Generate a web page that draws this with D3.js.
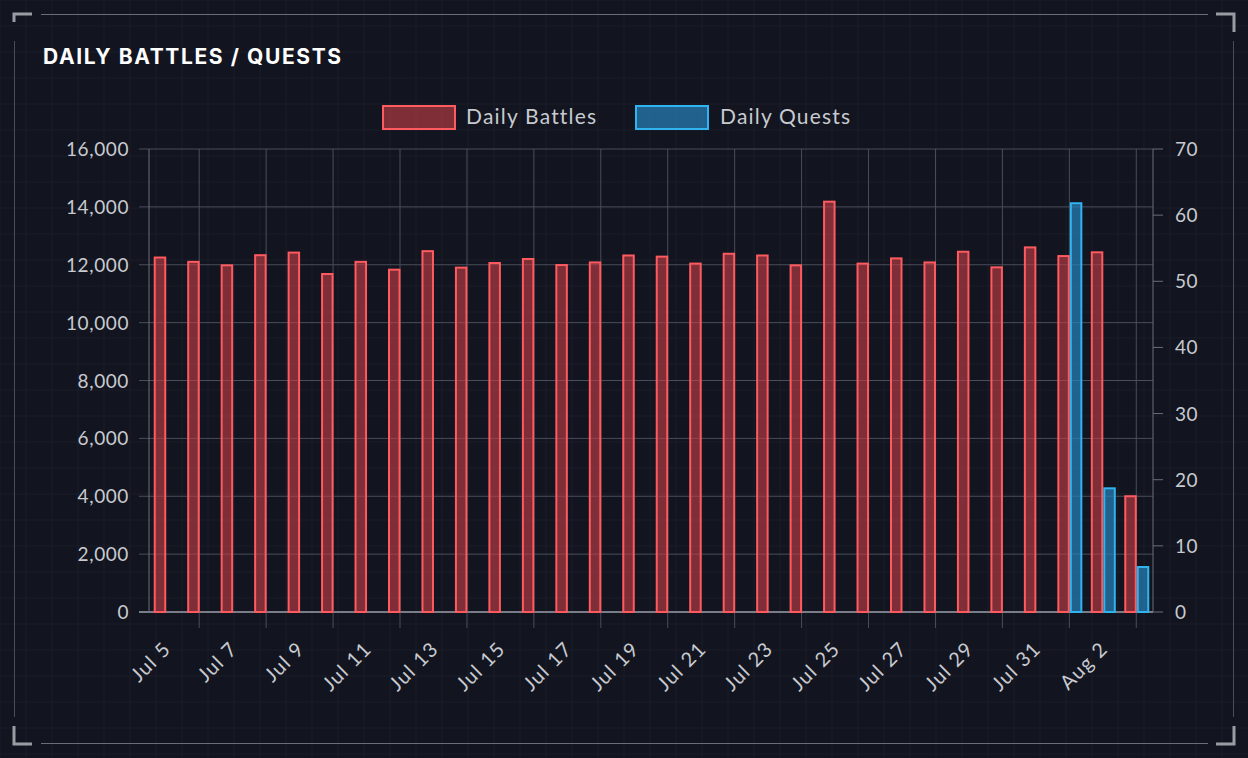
<!DOCTYPE html>
<html><head><meta charset="utf-8">
<script src="https://cdn.jsdelivr.net/npm/d3@7"></script>
<style>
body{margin:0;background:#12151f;}
svg{display:block}
</style></head>
<body><svg width="1248" height="758"></svg>
<script>
var days = ["Jul 5","Jul 6","Jul 7","Jul 8","Jul 9","Jul 10","Jul 11","Jul 12","Jul 13","Jul 14",
  "Jul 15","Jul 16","Jul 17","Jul 18","Jul 19","Jul 20","Jul 21","Jul 22","Jul 23","Jul 24",
  "Jul 25","Jul 26","Jul 27","Jul 28","Jul 29","Jul 30","Jul 31","Aug 1","Aug 2","Aug 3"]
var battles = [12250,12100,11980,12330,12420,11680,12100,11830,12470,11900,
  12060,12200,11990,12080,12320,12280,12040,12380,12320,11980,
  14180,12040,12220,12080,12450,11910,12600,12300,12430,4000]
var quests = [null,null,null,null,null,null,null,null,null,null,
  null,null,null,null,null,null,null,null,null,null,
  null,null,null,null,null,null,null,61.8,18.7,6.8]
var leftTicks = [0,2000,4000,6000,8000,10000,12000,14000,16000]
var rightTicks = [0,10,20,30,40,50,60,70]

var svg = d3.select("svg")
var L = 149, R = 1153, T = 149, B = 612

//faint background grid
var bg = svg.append("g")
for (var gx = 0; gx < 1248; gx += 26) bg.append("line").attr("x1", gx).attr("x2", gx).attr("y1", 0).attr("y2", 758).attr("stroke", "#1b1f2b")
for (var gy = 0; gy < 758; gy += 26) bg.append("line").attr("x1", 0).attr("x2", 1248).attr("y1", gy).attr("y2", gy).attr("stroke", "#1b1f2b")

//frame
svg.append("path").attr("d", "M14,22V14H32 M1216,14H1234V32 M14,726V744H32 M1216,744H1234V726").attr("fill", "none").attr("stroke", "#9a9ca4").attr("stroke-width", 3)
svg.append("line").attr("x1", 41).attr("x2", 1208).attr("y1", 14.5).attr("y2", 14.5).attr("stroke", "#6a6d78")
svg.append("line").attr("x1", 41).attr("x2", 1208).attr("y1", 743.5).attr("y2", 743.5).attr("stroke", "#6a6d78")
svg.append("line").attr("x1", 14.5).attr("x2", 14.5).attr("y1", 41).attr("y2", 717).attr("stroke", "#4a4d58")
svg.append("line").attr("x1", 1233.5).attr("x2", 1233.5).attr("y1", 41).attr("y2", 717).attr("stroke", "#4a4d58")

svg.append("text").attr("x", 43).attr("y", 64).text("DAILY BATTLES / QUESTS")
  .attr("fill", "#fff").attr("font-family", "Inter").attr("font-weight", 700).attr("font-size", 21).attr("letter-spacing", 1.6)

var x = d3.scaleBand().domain(days).range([L, R])
var yL = d3.scaleLinear().domain([0, 16000]).range([B, T])
var yR = d3.scaleLinear().domain([0, 70]).range([B, T])
var bw = x.bandwidth()

var g = svg.append("g")
//horizontal grid
g.selectAll(".hg").data(leftTicks).enter().append("line")
  .attr("x1", L - 10).attr("x2", R).attr("y1", d => yL(d)).attr("y2", d => yL(d))
  .attr("stroke", d => d === 0 ? "#7a7d88" : "#4a4e5a").attr("stroke-width", d => d === 0 ? 2 : 1)
g.selectAll(".rt").data(rightTicks).enter().append("line")
  .attr("x1", R).attr("x2", R + 10).attr("y1", d => yR(d)).attr("y2", d => yR(d)).attr("stroke", "#6a6d78")
//vertical grid
var vdays = days.filter((d, i) => i % 2 === 1)
g.selectAll(".vg").data(vdays).enter().append("line")
  .attr("x1", d => x(d) + bw / 2).attr("x2", d => x(d) + bw / 2).attr("y1", T).attr("y2", B + 16)
  .attr("stroke", "#4a4e5a")
g.append("line").attr("x1", L).attr("x2", L).attr("y1", T).attr("y2", B).attr("stroke", "#6a6d78")
g.append("line").attr("x1", R).attr("x2", R).attr("y1", T).attr("y2", B).attr("stroke", "#6a6d78")

//axis labels
g.selectAll(".ll").data(leftTicks).enter().append("text")
  .attr("x", L - 20).attr("y", d => yL(d) + 7).attr("text-anchor", "end")
  .attr("fill", "#c8cad0").attr("font-family", "Lato").attr("font-size", 19).attr("letter-spacing", 0.6).text(d3.format(","))
g.selectAll(".rl").data(rightTicks).enter().append("text")
  .attr("x", R + 22).attr("y", d => yR(d) + 7)
  .attr("fill", "#c8cad0").attr("font-family", "Lato").attr("font-size", 19).attr("letter-spacing", 0.6).text(d => d)
g.selectAll(".xl").data(days.filter((d, i) => i % 2 === 0)).enter().append("text")
  .attr("transform", d => "translate(" + (x(d) + bw / 2 + 2) + "," + (B + 34) + ") rotate(-45)")
  .attr("text-anchor", "end").attr("dy", 6)
  .attr("fill", "#c8cad0").attr("font-family", "Lato").attr("font-size", 20).attr("letter-spacing", 1.2).text(d => d)

//bars
var barW = 10.5
g.selectAll(".b").data(battles).enter().append("rect")
  .attr("x", (d, i) => x(days[i]) + bw / 2 - barW - 0.5).attr("width", barW)
  .attr("y", d => yL(d)).attr("height", d => B - yL(d))
  .attr("fill", "rgba(200,64,72,0.6)").attr("stroke", "#ff5a5f").attr("stroke-width", 2)
g.selectAll(".qq").data(quests.map((v, i) => ({v: v, d: days[i]})).filter(o => o.v !== null)).enter().append("rect")
  .attr("x", o => x(o.d) + bw / 2 + 1.5).attr("width", barW)
  .attr("y", o => yR(o.v)).attr("height", o => B - yR(o.v))
  .attr("fill", "rgba(40,130,190,0.7)").attr("stroke", "#2fb4f0").attr("stroke-width", 2)

//legend
var leg = svg.append("g")
leg.append("rect").attr("x", 383).attr("y", 106).attr("width", 72).attr("height", 23)
  .attr("fill", "rgba(200,64,72,0.6)").attr("stroke", "#ff5a5f").attr("stroke-width", 2)
leg.append("text").attr("x", 466).attr("y", 124).text("Daily Battles")
  .attr("fill", "#c8cad0").attr("font-family", "Lato").attr("font-size", 21).attr("letter-spacing", 1.2)
leg.append("rect").attr("x", 636).attr("y", 106).attr("width", 72).attr("height", 23)
  .attr("fill", "rgba(40,130,190,0.7)").attr("stroke", "#2fb4f0").attr("stroke-width", 2)
leg.append("text").attr("x", 720).attr("y", 124).text("Daily Quests")
  .attr("fill", "#c8cad0").attr("font-family", "Lato").attr("font-size", 21).attr("letter-spacing", 1.2)
</script></body></html>
